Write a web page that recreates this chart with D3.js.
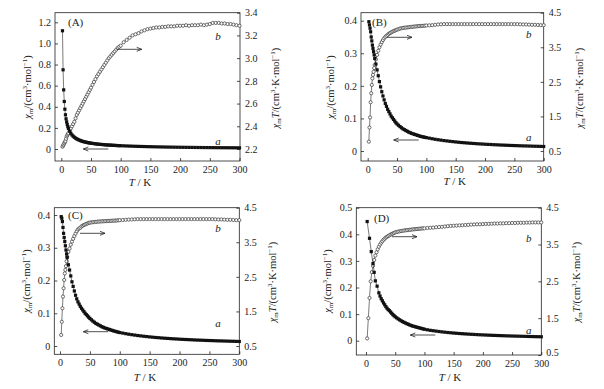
<!DOCTYPE html>
<html><head><meta charset="utf-8">
<script src="https://cdn.jsdelivr.net/npm/d3@7"></script>
<style>body{margin:0;background:#fff}svg{display:block;font-family:"Liberation Serif","Times New Roman",serif}text{font-family:"Liberation Serif","Times New Roman",serif;fill:#222}</style>
</head><body>
<script>
// ---------- DATA ----------
const xTicks = [0, 50, 100, 150, 200, 250, 300];
const lowT  = [2,3,4,5,6,7,8,9,10,11,12,14,16,18,20,22,24,26,28,30,32,34,36,38,40,42,44,46,48];
const midT  = [50,52.5,55,57.5,60,62.5,65,67.5,70,72.5,75,77.5,80,82.5,85,87.5,90,92.5,95,97.5];
const highT = [100,105,110,115,120,125,130,135,140,145,150,155,160,165,170,175,180,185,190,195,200,205,210,215,220,225,230,235,240,245,250,255,260,265,270,275,280,285,290,295,300];
const T_ABC = lowT.concat(midT, highT);

const A_chi = [1.12,0.75,0.56,0.45,0.377,0.324,0.286,0.257,0.232,0.212,0.195,0.169,0.149,0.133,0.121,0.111,0.103,0.096,0.090,0.085,0.080,0.076,0.072,0.069,0.066,0.064,0.061,0.059,0.057,
  0.055,0.053,0.051,0.049,0.047,0.0455,0.044,0.043,0.042,0.0405,0.039,0.038,0.0375,0.0365,0.0356,0.0348,0.034,0.0332,0.0325,0.0318,
  0.031,0.030,0.0287,0.0277,0.0267,0.0257,0.0248,0.024,0.0232,0.0224,0.0217,0.0211,0.0204,0.0198,0.0193,0.0187,0.0182,0.0177,0.0173,0.0168,0.0164,0.016,0.0157,0.0153,0.015,0.0146,0.0143,0.014,0.0137,0.0135,0.0132,0.013,0.0127,0.0125,0.0122,0.012,0.0118,0.0116,0.0114,0.0112,0.011];
const A_chiT = [2.22,2.23,2.24,2.25,2.26,2.27,2.29,2.31,2.32,2.33,2.34,2.36,2.38,2.40,2.42,2.44,2.47,2.50,2.52,2.54,2.56,2.58,2.60,2.62,2.64,2.66,2.68,2.70,2.72,
  2.74,2.765,2.79,2.815,2.84,2.86,2.88,2.90,2.92,2.94,2.96,2.98,3.00,3.015,3.03,3.045,3.06,3.075,3.09,3.10,
  3.11,3.14,3.16,3.18,3.20,3.21,3.22,3.235,3.245,3.255,3.26,3.265,3.27,3.27,3.275,3.275,3.28,3.28,3.28,3.285,3.285,3.285,3.29,3.285,3.29,3.29,3.29,3.295,3.29,3.295,3.30,3.31,3.31,3.31,3.305,3.305,3.30,3.30,3.295,3.29,3.285];

const B_chi = [0.397,0.387,0.377,0.366,0.35,0.338,0.325,0.315,0.305,0.295,0.284,0.267,0.249,0.231,0.213,0.197,0.182,0.169,0.157,0.146,0.137,0.128,0.121,0.114,0.107,0.102,0.097,0.092,0.087,
  0.083,0.079,0.075,0.0715,0.068,0.0655,0.063,0.0605,0.058,0.056,0.054,0.0525,0.051,0.0495,0.048,0.0465,0.045,0.044,0.043,0.042,
  0.041,0.0394,0.0376,0.036,0.0346,0.0333,0.032,0.0309,0.0298,0.0288,0.0278,0.0269,0.026,0.0253,0.0245,0.0238,0.0232,0.0225,0.0219,0.0214,0.0208,0.0203,0.0199,0.0194,0.019,0.0185,0.0181,0.0178,0.0174,0.017,0.0167,0.0164,0.016,0.0157,0.0155,0.0152,0.0149,0.0146,0.0144,0.0141,0.0138];
const B_chiT = [0.77,1.18,1.47,1.91,2.17,2.41,2.6,2.7,2.79,2.9,2.99,3.15,3.28,3.4,3.5,3.58,3.65,3.71,3.76,3.8,3.83,3.86,3.89,3.91,3.93,3.95,3.965,3.98,3.995,
  4.01,4.025,4.04,4.05,4.06,4.065,4.07,4.075,4.08,4.085,4.09,4.095,4.10,4.105,4.11,4.112,4.115,4.118,4.12,4.125,
  4.13,4.135,4.14,4.15,4.16,4.165,4.17,4.17,4.17,4.17,4.17,4.17,4.17,4.17,4.17,4.17,4.17,4.17,4.17,4.17,4.17,4.17,4.17,4.17,4.17,4.17,4.17,4.17,4.17,4.17,4.17,4.17,4.165,4.16,4.16,4.155,4.15,4.15,4.145,4.14,4.14];

const C_chi = [0.395,0.39,0.38,0.362,0.344,0.331,0.319,0.306,0.293,0.281,0.27,0.248,0.232,0.214,0.196,0.182,0.168,0.155,0.144,0.135,0.128,0.121,0.115,0.11,0.105,0.1,0.096,0.092,0.088,
  0.084,0.08,0.076,0.0725,0.069,0.0665,0.064,0.0615,0.059,0.057,0.055,0.0535,0.052,0.0505,0.049,0.0475,0.046,0.0447,0.0435,0.0422,
  0.041,0.0394,0.0376,0.036,0.0346,0.0333,0.032,0.0309,0.0298,0.0288,0.0278,0.0269,0.026,0.0253,0.0245,0.0238,0.0232,0.0225,0.0219,0.0214,0.0208,0.0203,0.0199,0.0194,0.019,0.0185,0.0181,0.0178,0.0174,0.017,0.0167,0.0164,0.016,0.0157,0.0155,0.0152,0.0149,0.0146,0.0144,0.0141,0.0138];
const C_chiT = [0.82,1.2,1.59,1.93,2.17,2.41,2.6,2.7,2.81,2.95,3.08,3.22,3.32,3.43,3.52,3.6,3.68,3.75,3.82,3.87,3.9,3.92,3.96,3.98,4.0,4.015,4.03,4.045,4.06,
  4.07,4.075,4.08,4.085,4.09,4.095,4.1,4.102,4.105,4.108,4.11,4.112,4.115,4.118,4.12,4.122,4.125,4.128,4.13,4.135,
  4.14,4.145,4.15,4.155,4.16,4.165,4.17,4.17,4.17,4.17,4.17,4.17,4.17,4.17,4.17,4.17,4.17,4.17,4.17,4.17,4.17,4.17,4.17,4.17,4.17,4.17,4.17,4.17,4.17,4.17,4.17,4.17,4.165,4.16,4.16,4.155,4.15,4.15,4.145,4.14,4.14];

const TD_a = [2,6,9,12,14,16,19,22,24,26,28,30,32,34,36,38,40,42,44,46,48].concat(midT, highT);
const D_chi = [0.448,0.385,0.335,0.29,0.257,0.225,0.205,0.18,0.168,0.158,0.15,0.142,0.135,0.128,0.122,0.117,0.113,0.108,0.103,0.098,0.094,
  0.09,0.086,0.082,0.0785,0.075,0.072,0.069,0.0665,0.064,0.0615,0.059,0.057,0.055,0.0535,0.052,0.0505,0.049,0.0475,0.046,0.0445,
  0.043,0.041,0.039,0.0375,0.036,0.0345,0.0332,0.032,0.0308,0.0298,0.0288,0.0279,0.027,0.0262,0.0255,0.0248,0.0241,0.0235,0.0229,0.0223,0.0218,0.0213,0.0208,0.0203,0.0199,0.0195,0.0191,0.0187,0.0183,0.018,0.0176,0.0173,0.017,0.0167,0.0164,0.0161,0.0158,0.0155,0.0152,0.015,0.0148];
const TD_b = [2,4,6,8,10,12,14,16,18,20,22,24,26,28,30,32,34,36,38,40,42,44,46,48].concat(midT, highT);
const D_chiT = [0.95,1.5,2.05,2.5,2.75,2.92,3.08,3.2,3.29,3.37,3.44,3.5,3.55,3.59,3.63,3.66,3.69,3.71,3.73,3.75,3.77,3.785,3.8,3.815,
  3.83,3.84,3.85,3.858,3.865,3.872,3.88,3.885,3.89,3.895,3.9,3.905,3.91,3.915,3.92,3.922,3.925,3.93,3.935,3.938,
  3.94,3.95,3.955,3.96,3.97,3.975,3.98,3.99,4.0,4.005,4.01,4.015,4.02,4.025,4.03,4.035,4.04,4.045,4.05,4.05,4.055,4.06,4.06,4.065,4.07,4.07,4.075,4.075,4.08,4.08,4.085,4.085,4.09,4.09,4.09,4.095,4.095,4.1,4.1,4.1,4.1];

const leftTicksA = [0,0.2,0.4,0.6,0.8,1.0,1.2];
const rightTicksA = [2.2,2.4,2.6,2.8,3.0,3.2,3.4];
const leftTicksBC = [0,0.1,0.2,0.3,0.4];
const leftTicksD = [0,0.1,0.2,0.3,0.4,0.5];
const rightTicksBCD = [0.5,1.5,2.5,3.5,4.5];
const panelNames = ["(A)","(B)","(C)","(D)"];

// ---------- LAYOUT ----------
const fmt1 = d => d === 0 ? "0" : d.toFixed(1);
const panels = [
 {name:panelNames[0], Ta:T_ABC, a:A_chi, Tb:T_ABC, b:A_chiT, lt:leftTicksA, rt:rightTicksA,
  fx:[55,240], fy:[12.7,161], xr:[61.3,239.5], lD:[0,1.2], lR:[149,22.3], rD:[2.2,3.4], rR:[149,12.7],
  nm:[68,26], la:[30.5,87], ra:[278.5,88], xt:[140,186],
  arB:[116.7,141.7,49.3], arA:[108.3,83.3,149], lb:[218,40], lA:[218,145]},
 {name:panelNames[1], Ta:T_ABC, a:B_chi, Tb:T_ABC, b:B_chiT, lt:leftTicksBC, rt:rightTicksBCD,
  fx:[361,543.7], fy:[12.7,161], xr:[367.7,543.7], lD:[0,0.4], lR:[151,20.7], rD:[0.5,4.5], rR:[151,12.7],
  nm:[372,26], la:[333.5,87], ra:[582.5,88], xt:[454.7,185],
  arB:[387,412,37.3], arA:[418.7,393.7,140], lb:[528.7,38], lA:[528.7,141]},
 {name:panelNames[2], Ta:T_ABC, a:C_chi, Tb:T_ABC, b:C_chiT, lt:leftTicksBC, rt:rightTicksBCD,
  fx:[54.3,239.3], fy:[207.7,354.3], xr:[60,239.3], lD:[0,0.4], lR:[346,215], rD:[0.5,4.5], rR:[346,207.7],
  nm:[68,219], la:[30,281], ra:[276,282], xt:[145,381],
  arB:[80,105,233.3], arA:[108.3,83.3,331.7], lb:[218,232], lA:[218,327]},
 {name:panelNames[3], Ta:TD_a, a:D_chi, Tb:TD_b, b:D_chiT, lt:leftTicksD, rt:rightTicksBCD,
  fx:[356.3,541.3], fy:[207.7,355], xr:[366,541.3], lD:[0,0.5], lR:[340.7,207.7], rD:[0.5,4.5], rR:[355,207.7],
  nm:[374,222], la:[330.5,281], ra:[579.5,282], xt:[450,381],
  arB:[392,417,236.7], arA:[435.3,410.3,335], lb:[528.7,242], lA:[528.7,334], lowRight:true}
];

const svg = d3.select("body").append("svg").attr("width",604).attr("height",389);
const FS = 10, COL = "#222";

function arrow(g, x1, x2, y){
  const dir = x2 > x1 ? 1 : -1;
  g.append("line").attr("x1",x1).attr("x2",x2).attr("y1",y).attr("y2",y).attr("stroke",COL).attr("stroke-width",0.8);
  g.append("path").attr("d",`M${x2-dir*5},${y-2}L${x2},${y}L${x2-dir*5},${y+2}`).attr("fill","none").attr("stroke",COL).attr("stroke-width",0.8);
}

function ylabel(g, x, y, right){
  const t = g.append("text").attr("transform",`translate(${x},${y}) rotate(-90)`).attr("text-anchor","middle").attr("font-size",10.5);
  t.append("tspan").attr("font-style","italic").text("χ");
  t.append("tspan").attr("font-size",7).attr("dy",2).text("m");
  if(right){ t.append("tspan").attr("dy",-2).attr("font-style","italic").text("T"); t.append("tspan").text("/(cm"); }
  else t.append("tspan").attr("dy",-2).text("/(cm");
  t.append("tspan").attr("font-size",7).attr("dy",-4).text("3");
  t.append("tspan").attr("dy",4).text(right ? "·K·mol" : "·mol");
  t.append("tspan").attr("font-size",7).attr("dy",-4).text("−1");
  t.append("tspan").attr("dy",4).text(")");
}

panels.forEach(p => {
  const g = svg.append("g");
  const x = d3.scaleLinear().domain([0,300]).range(p.xr);
  const yl = d3.scaleLinear().domain(p.lD).range(p.lR);
  const yr = d3.scaleLinear().domain(p.rD).range(p.rR);

  const ax = g.append("g").attr("transform",`translate(0,${p.fy[1]})`)
    .call(d3.axisBottom(x).tickValues(xTicks).tickSize(-3).tickPadding(5).tickFormat(d3.format("d")));
  const al = g.append("g").attr("transform",`translate(${p.fx[0]},0)`)
    .call(d3.axisLeft(yl).tickValues(p.lt).tickSize(-3).tickPadding(4).tickFormat(fmt1));
  const ar = g.append("g").attr("transform",`translate(${p.fx[1]},0)`)
    .call(d3.axisRight(yr).tickValues(p.rt).tickSize(-3).tickPadding(5).tickFormat(fmt1));
  [ax,al,ar].forEach(a => {
    a.attr("font-family",null).attr("font-size",null);
    a.select(".domain").remove();
    a.selectAll("line").attr("stroke",COL).attr("stroke-width",0.8);
    a.selectAll("text").attr("font-size",FS).attr("fill",COL);
  });
  if (p.lowRight) ar.selectAll("text").filter(d => d === 0.5).attr("dy","0.05em");

  g.append("rect").attr("x",p.fx[0]).attr("y",p.fy[0]).attr("width",p.fx[1]-p.fx[0]).attr("height",p.fy[1]-p.fy[0])
    .attr("fill","none").attr("stroke",COL).attr("stroke-width",0.8);

  const da = p.Ta.map((t,i)=>[t,p.a[i]]);
  const db = p.Tb.map((t,i)=>[t,p.b[i]]);

  g.append("path").datum(db).attr("d",d3.line().x(d=>x(d[0])).y(d=>yr(d[1])))
    .attr("fill","none").attr("stroke",COL).attr("stroke-width",0.6);
  g.selectAll(".cb").data(db).enter().append("circle")
    .attr("cx",d=>x(d[0])).attr("cy",d=>yr(d[1])).attr("r",1.6)
    .attr("fill","#fff").attr("stroke","#333").attr("stroke-width",0.7);

  g.append("path").datum(da).attr("d",d3.line().x(d=>x(d[0])).y(d=>yl(d[1])))
    .attr("fill","none").attr("stroke",COL).attr("stroke-width",0.6);
  g.selectAll(".sa").data(da).enter().append("rect")
    .attr("x",d=>x(d[0])-1.6).attr("y",d=>yl(d[1])-1.6).attr("width",3.2).attr("height",3.2).attr("fill","#111");

  g.append("text").attr("x",p.nm[0]).attr("y",p.nm[1]).attr("font-size",11).text(p.name);
  arrow(g, p.arB[0], p.arB[1], p.arB[2]);
  arrow(g, p.arA[0], p.arA[1], p.arA[2]);
  g.append("text").attr("x",p.lb[0]).attr("y",p.lb[1]).attr("font-size",11).attr("font-style","italic").attr("text-anchor","middle").text("b");
  g.append("text").attr("x",p.lA[0]).attr("y",p.lA[1]).attr("font-size",11).attr("font-style","italic").attr("text-anchor","middle").text("a");

  ylabel(g, p.la[0], p.la[1], false);
  ylabel(g, p.ra[0], p.ra[1], true);
  const xt = g.append("text").attr("x",p.xt[0]).attr("y",p.xt[1]).attr("font-size",11).attr("text-anchor","middle");
  xt.append("tspan").attr("font-style","italic").text("T");
  xt.append("tspan").text(" / K");
});
</script>
</body></html>
